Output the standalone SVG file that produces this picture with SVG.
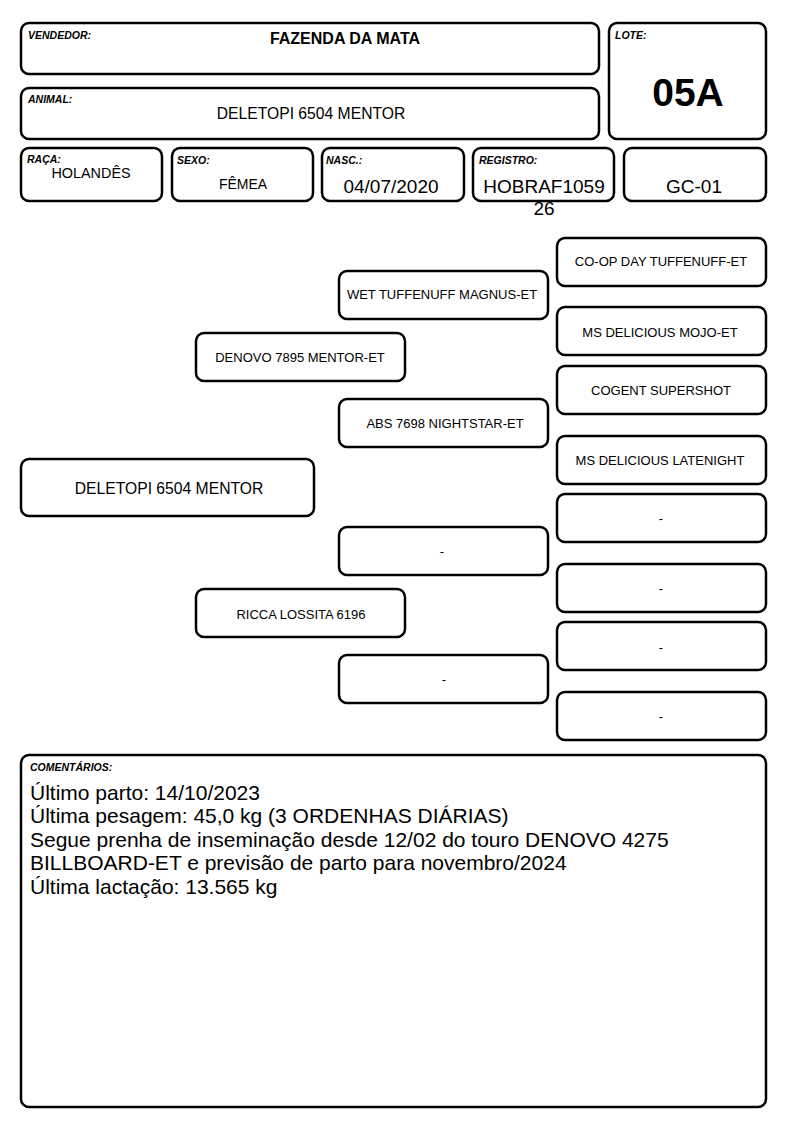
<svg xmlns="http://www.w3.org/2000/svg" width="794" height="1123" viewBox="0 0 794 1123">
<style>
.b{fill:#fff;stroke:#000;stroke-width:2.5}
text{font-family:"Liberation Sans",Arial,sans-serif;fill:#000}
.lb{font-size:10.5px;font-weight:bold;font-style:italic}
.p{font-size:13px;text-anchor:middle}
.v{font-size:15.7px;text-anchor:middle}
.m{font-size:19px;text-anchor:middle}
.c{font-size:21px}
</style>
<rect width="794" height="1123" fill="#fff"/>
<g id="vendedor"><rect class="b" x="21" y="23" width="578" height="51" rx="8"/><text class="lb" x="28" y="39">VENDEDOR:</text><text x="345" y="44" font-size="16" font-weight="bold" text-anchor="middle">FAZENDA DA MATA</text></g>
<g id="animal"><rect class="b" x="21" y="88" width="578" height="51" rx="8"/><text class="lb" x="28" y="103">ANIMAL:</text><text class="v" x="311" y="119">DELETOPI 6504 MENTOR</text></g>
<g id="lote"><rect class="b" x="609" y="23" width="157" height="116" rx="8"/><text class="lb" x="615" y="39">LOTE:</text><text x="688" y="106" font-size="39" font-weight="bold" text-anchor="middle">05A</text></g>
<g id="raca"><rect class="b" x="21" y="148" width="141" height="53" rx="8"/><text class="lb" x="27" y="163">RAÇA:</text><text x="91" y="178" font-size="14.4" text-anchor="middle">HOLANDÊS</text></g>
<g id="sexo"><rect class="b" x="172" y="148" width="141" height="53" rx="8"/><text class="lb" x="177" y="164">SEXO:</text><text x="243" y="189" font-size="14" text-anchor="middle">FÊMEA</text></g>
<g id="nasc"><rect class="b" x="322" y="148" width="142" height="53" rx="8"/><text class="lb" x="326" y="164">NASC.:</text><text class="m" x="391" y="193">04/07/2020</text></g>
<g id="registro"><rect class="b" x="473" y="148" width="141" height="53" rx="8"/><text class="lb" x="479" y="164">REGISTRO:</text><text class="m" x="544" y="193">HOBRAF1059</text><text class="m" x="544" y="215">26</text></g>
<g id="gc"><rect class="b" x="624" y="148" width="142" height="53" rx="8"/><text class="m" x="694" y="193">GC-01</text></g>
<g id="connectors"></g>
<g id="g0"><rect class="b" x="21" y="459" width="293" height="57" rx="8"/><text class="v" x="169" y="494">DELETOPI 6504 MENTOR</text></g>
<g id="sire"><rect class="b" x="196" y="333" width="209" height="48" rx="8"/><text class="p" x="300" y="362">DENOVO 7895 MENTOR-ET</text></g>
<g id="dam"><rect class="b" x="196" y="589" width="209" height="48" rx="8"/><text class="p" x="301" y="619">RICCA LOSSITA 6196</text></g>
<g id="ss"><rect class="b" x="339" y="271" width="209" height="48" rx="8"/><text class="p" x="442" y="299">WET TUFFENUFF MAGNUS-ET</text></g>
<g id="sd"><rect class="b" x="339" y="399" width="209" height="48" rx="8"/><text class="p" x="445" y="428">ABS 7698 NIGHTSTAR-ET</text></g>
<g id="ds"><rect class="b" x="339" y="527" width="209" height="48" rx="8"/><text class="p" x="442" y="556">-</text></g>
<g id="dd"><rect class="b" x="339" y="655" width="209" height="48" rx="8"/><text class="p" x="444" y="684">-</text></g>
<g id="sss"><rect class="b" x="557" y="238" width="209" height="48" rx="8"/><text class="p" x="661" y="266">CO-OP DAY TUFFENUFF-ET</text></g>
<g id="ssd"><rect class="b" x="557" y="307" width="209" height="48" rx="8"/><text class="p" x="660" y="337">MS DELICIOUS MOJO-ET</text></g>
<g id="sds"><rect class="b" x="557" y="366" width="209" height="48" rx="8"/><text class="p" x="661" y="395">COGENT SUPERSHOT</text></g>
<g id="sdd"><rect class="b" x="557" y="436" width="209" height="48" rx="8"/><text class="p" x="660" y="465">MS DELICIOUS LATENIGHT</text></g>
<g id="dss"><rect class="b" x="557" y="494" width="209" height="48" rx="8"/><text class="p" x="661" y="523">-</text></g>
<g id="dsd"><rect class="b" x="557" y="564" width="209" height="48" rx="8"/><text class="p" x="661" y="593">-</text></g>
<g id="dds"><rect class="b" x="557" y="622" width="209" height="48" rx="8"/><text class="p" x="661" y="652">-</text></g>
<g id="ddd"><rect class="b" x="557" y="692" width="209" height="48" rx="8"/><text class="p" x="661" y="721">-</text></g>
<g id="comentarios"><rect class="b" x="21" y="755" width="745" height="352" rx="8"/><text class="lb" x="30" y="771">COMENTÁRIOS:</text>
<text class="c" x="30" y="800">Último parto: 14/10/2023</text>
<text class="c" x="30" y="823">Última pesagem: 45,0 kg (3 ORDENHAS DIÁRIAS)</text>
<text class="c" x="30" y="847">Segue prenha de inseminação desde 12/02 do touro DENOVO 4275</text>
<text class="c" x="30" y="870">BILLBOARD-ET e previsão de parto para novembro/2024</text>
<text class="c" x="30" y="894">Última lactação: 13.565 kg</text></g>
</svg>
